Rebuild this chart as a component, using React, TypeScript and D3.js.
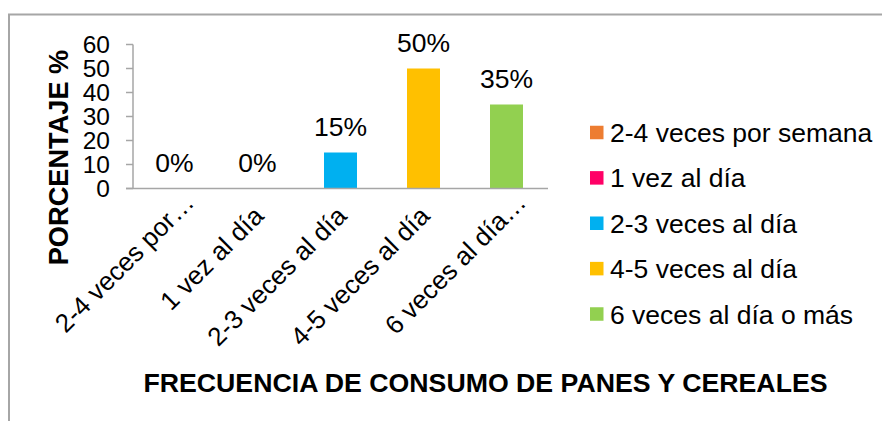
import React from "react";
import * as d3 from "d3";

const categories = [
  "2-4 veces por semana",
  "1 vez al día",
  "2-3 veces al día",
  "4-5 veces al día",
  "6 veces al día o más",
];
const tickLabels = ["2-4 veces por…", "1 vez al día", "2-3 veces al día", "4-5 veces al día", "6 veces al día…"];
const truncated = [true, false, false, false, true];
const values = [0, 0, 15, 50, 35];
const colors = ["#ED7D31", "#FF0066", "#00B0F0", "#FFC000", "#92D050"];
const yTicks = [0, 10, 20, 30, 40, 50, 60];
const yTitle = "PORCENTAJE %";
const xTitle = "FRECUENCIA DE CONSUMO DE PANES Y CEREALES";

const W = 882;
const H = 421;
const FONT = "'Liberation Sans', Arial, sans-serif";
const AXIS = "#A6A6A6";

export default function App() {
  const xc = d3.scaleBand<string>().domain(categories).range([133, 548]);
  const y = d3.scaleLinear().domain([0, 60]).range([188.5, 44.5]);
  const legendY = d3.scalePoint<string>().domain(categories).range([132.5, 314]);
  const cx = (c: string) => xc(c)! + xc.bandwidth() / 2;

  return (
    <svg
      width={W}
      height={H}
      style={{ position: "absolute", left: 0, top: 0, background: "#fff" }}
      fontFamily={FONT}
    >
      <rect x={0} y={0} width={W} height={H} fill="#fff" />
      {/* chart frame */}
      <path d={`M9,${H} V14.5 H${W}`} fill="none" stroke={AXIS} strokeWidth={2} />

      {/* y axis */}
      <line x1={133} x2={133} y1={y(60)} y2={y(0)} stroke={AXIS} strokeWidth={1.5} />
      {yTicks.map((t) => (
        <g key={t}>
          <line x1={126} x2={133} y1={y(t)} y2={y(t)} stroke={AXIS} strokeWidth={1.5} />
          <text x={110} y={y(t)} dy="0.36em" textAnchor="end" fontSize={24.5} fill="#000">
            {t}
          </text>
        </g>
      ))}

      {/* bars */}
      {categories.map((c, i) => (
        <rect
          key={c}
          x={cx(c) - 16.5}
          width={33}
          y={y(values[i])}
          height={y(0) - y(values[i])}
          fill={colors[i]}
        />
      ))}

      {/* x axis baseline */}
      <line x1={126} x2={548} y1={y(0)} y2={y(0)} stroke={AXIS} strokeWidth={1.5} />

      {/* data labels */}
      {categories.map((c, i) => (
        <text key={c} x={cx(c)} y={y(values[i]) - 17} textAnchor="middle" fontSize={26.5} fill="#000">
          {values[i]}%
        </text>
      ))}

      {/* category labels */}
      {categories.map((c, i) => (
        <text
          key={c}
          transform={`translate(${cx(c) + 1},211) rotate(-45)`}
          textAnchor="end"
          dx={truncated[i] ? 19 : 0}
          dy="0.36em"
          fontSize={26}
          fill="#000"
        >
          {tickLabels[i]}
        </text>
      ))}

      {/* axis titles */}
      <text
        transform="translate(68,157.5) rotate(-90)"
        textAnchor="middle"
        fontSize={27.2}
        fontWeight="bold"
        fill="#000"
      >
        {yTitle}
      </text>
      <text x={485.5} y={392} textAnchor="middle" fontSize={26.7} fontWeight="bold" fill="#000">
        {xTitle}
      </text>

      {/* legend */}
      {categories.map((c, i) => (
        <g key={c} transform={`translate(590,${legendY(c)})`}>
          <rect x={0} y={-6.75} width={13.5} height={13.5} fill={colors[i]} />
          <text x={20} y={0} dy="0.36em" fontSize={26.5} fill="#000">
            {c}
          </text>
        </g>
      ))}
    </svg>
  );
}
